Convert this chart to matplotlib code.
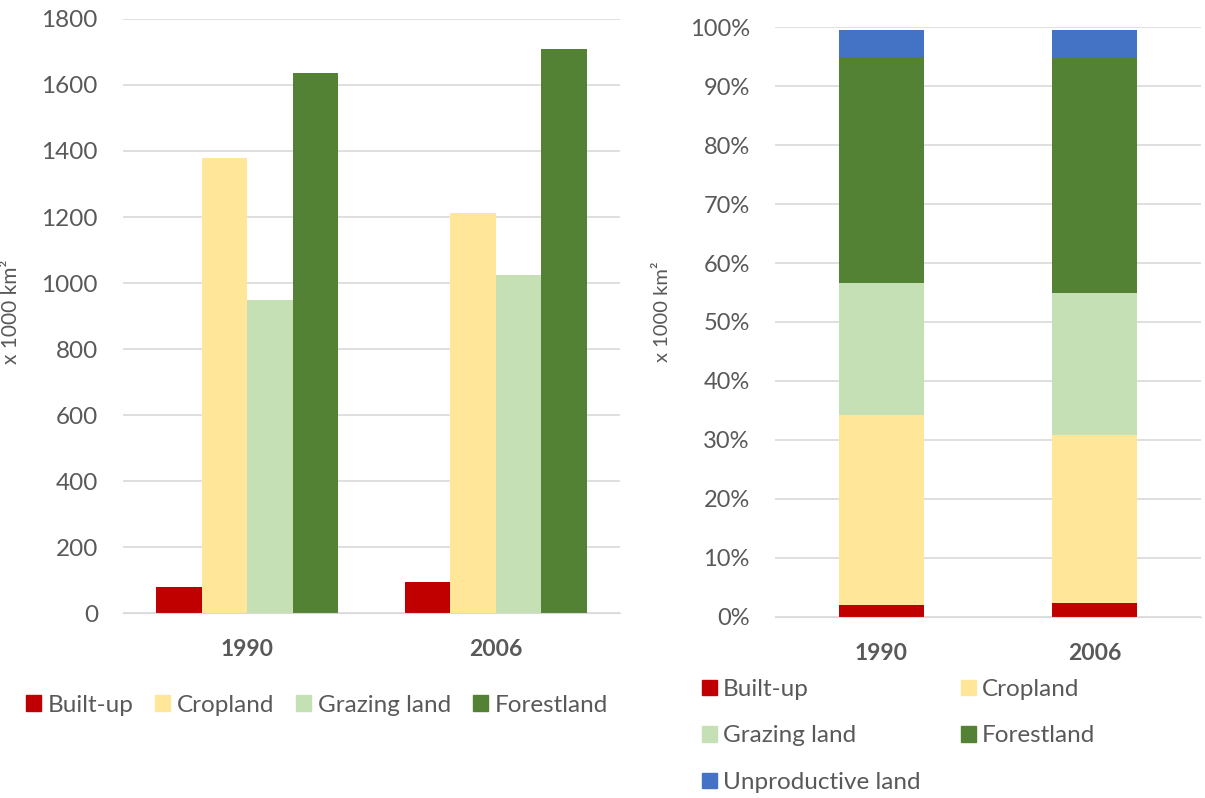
import matplotlib.pyplot as plt
import numpy as np
from matplotlib.patches import Patch
from matplotlib.ticker import FuncFormatter

plt.rcParams['font.family'] = ['Lato', 'DejaVu Sans']

years = ['1990', '2006']
classes = ['Built-up', 'Cropland', 'Grazing land', 'Forestland']
colors = ['#C00000', '#FFE699', '#C5E0B4', '#548235']
area_1990 = [78, 1379, 949, 1637]
area_2006 = [95, 1212, 1025, 1709]

share_classes = ['Built-up', 'Cropland', 'Grazing land', 'Forestland', 'Unproductive land']
share_colors = ['#C00000', '#FFE699', '#C5E0B4', '#548235', '#4472C4']
share_1990 = [1.9, 32.35, 22.4, 38.35, 4.5]
share_2006 = [2.3, 28.5, 24.1, 39.95, 4.65]

tick_color = '#595959'
grid_color = '#D9D9D9'

fig = plt.figure(figsize=(12.05, 7.98), dpi=100)

# left: grouped bars
ax = fig.add_axes([0.102, 0.2318, 0.4125, 0.7444])
x = np.arange(len(years))
width = 0.183
areas = np.array([area_1990, area_2006]).T
for i, (name, col) in enumerate(zip(classes, colors)):
    ax.bar(x + (i - 1.5) * width, areas[i], width, color=col, label=name, zorder=2)
ax.set_xlim(-0.5, 1.5)
ax.set_ylim(0, 1800)
ax.set_yticks(range(0, 1801, 200))
ax.set_xticks(x, years, fontweight='bold')
ax.set_ylabel('x 1000 km²', fontsize=15, color=tick_color)
ax.yaxis.set_label_coords(-0.205, 0.507)

# right: 100% stacked bars
ax2 = fig.add_axes([0.643, 0.2272, 0.354, 0.7386])
shares = np.array([share_1990, share_2006]).T
bottom = np.zeros(len(years))
for i, (name, col) in enumerate(zip(share_classes, share_colors)):
    ax2.bar(x, shares[i], 0.4, bottom=bottom, color=col, label=name, zorder=2)
    bottom += shares[i]
ax2.set_xlim(-0.5, 1.5)
ax2.set_ylim(0, 100)
ax2.set_yticks(range(0, 101, 10))
ax2.yaxis.set_major_formatter(FuncFormatter(lambda v, p: f'{v:.0f}%'))
ax2.set_xticks(x, years, fontweight='bold')
ax2.set_ylabel('x 1000 km²', fontsize=14.5, color=tick_color)
ax2.yaxis.set_label_coords(-0.244, 0.517)

for a in (ax, ax2):
    for s in ['top', 'right', 'left']:
        a.spines[s].set_visible(False)
    a.spines['bottom'].set_color(grid_color)
    a.yaxis.grid(True, color=grid_color, linewidth=1.2, zorder=0)
    a.set_axisbelow(True)
    a.tick_params(axis='both', length=0, colors=tick_color)
    a.tick_params(axis='y', pad=18, labelsize=17.5 if a is ax else 17)
    a.tick_params(axis='x', pad=19, labelsize=16.5)

h1 = [Patch(color=c) for c in colors]
fig.legend(h1, classes, loc='center left', bbox_to_anchor=(0.0216, 0.1165), ncol=4,
           frameon=False, fontsize=17.5, labelcolor=tick_color, handlelength=0.62,
           handleheight=0.62, handletextpad=0.27, columnspacing=0.9,
           borderpad=0, borderaxespad=0)

# column-major fill so the rows read like the reference
order = [0, 2, 4, 1, 3]
h2 = [Patch(color=share_colors[i]) for i in order]
fig.legend(h2, [share_classes[i] for i in order], loc='center left',
           bbox_to_anchor=(0.5826, 0.0777), ncol=2, frameon=False, fontsize=17.5,
           labelcolor=tick_color, handlelength=0.62, handleheight=0.62,
           handletextpad=0.25, columnspacing=1.65, labelspacing=1.05,
           borderpad=0, borderaxespad=0)

fig.savefig('out.png', dpi=100)
